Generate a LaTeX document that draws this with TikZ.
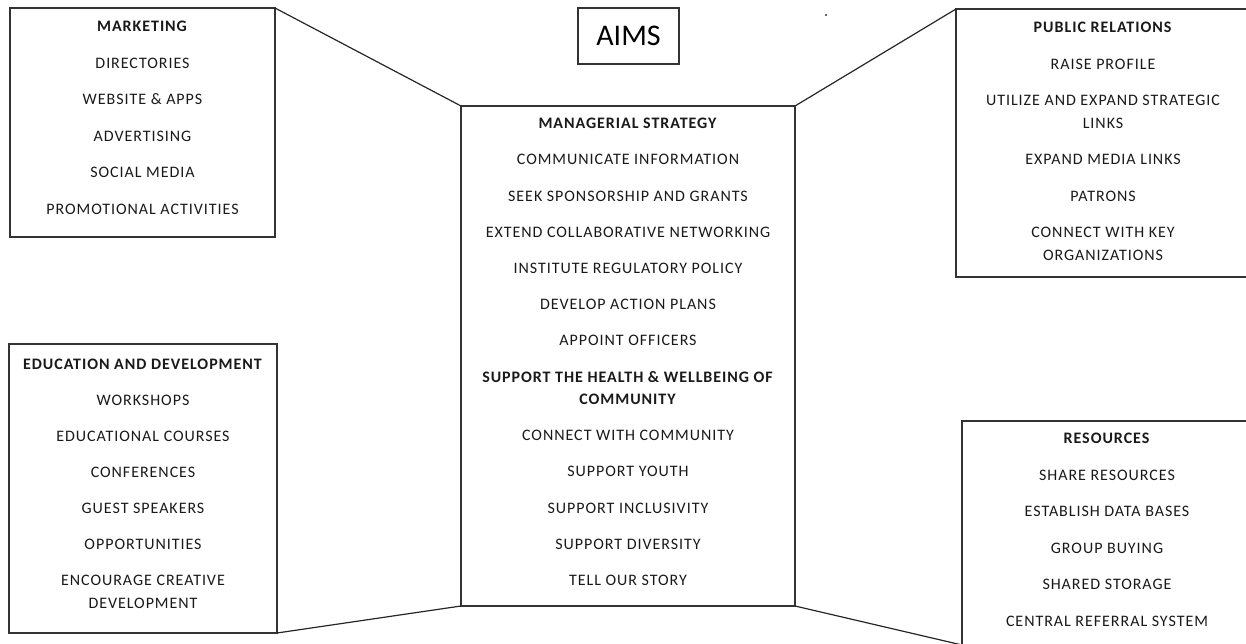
\documentclass[tikz,border=0pt]{standalone}
\usepackage{fontspec}
\setmainfont{Carlito}
\newfontfamily\listfont{Carlito}[LetterSpace=6]
\begin{document}
\begin{tikzpicture}[x=1pt,y=-1pt,
    panel/.style={draw=black!80,line width=1.4pt,inner sep=0pt,outer sep=0pt,
                  anchor=north west},
    items/.style={align=center,inner sep=0pt,anchor=north,text=black!90,
                  font=\listfont\fontsize{16}{22.5}\selectfont},
    link/.style={draw=black!85,line width=1.2pt}]
  \useasboundingbox (0,0) rectangle (1246,644);
  \clip (0,0) rectangle (1246,644);

  \node[panel,minimum width=265,minimum height=229] (mkt) at (10,8) {};
  \node[panel,minimum width=334,minimum height=500] (strat) at (461,106) {};
  \node[panel,minimum width=268,minimum height=289] (edu) at (9,344) {};
  \node[panel,minimum width=294,minimum height=268] (pr) at (956,9) {};
  \node[panel,minimum width=290,minimum height=224] (res) at (962,421) {};
  \node[panel,minimum width=101,minimum height=56,line width=1.2pt,
        font=\fontsize{30}{30}\selectfont] (aims) at (578,8) {AIMS};
  \fill[black!80] (826,15) circle (1.1);

  \node[items] (mktlist) at ([yshift=-13]mkt.north) {\textbf{MARKETING}\\[14pt]
    DIRECTORIES\\[14pt] WEBSITE \& APPS\\[14pt] ADVERTISING\\[14pt]
    SOCIAL MEDIA\\[14pt] PROMOTIONAL ACTIVITIES};
  \node[items] (stratlist) at ([yshift=-12]strat.north) {\textbf{MANAGERIAL STRATEGY}\\[13.7pt]
    COMMUNICATE INFORMATION\\[13.7pt] SEEK SPONSORSHIP AND GRANTS\\[13.7pt]
    EXTEND COLLABORATIVE NETWORKING\\[13.7pt] INSTITUTE REGULATORY POLICY\\[13.7pt]
    DEVELOP ACTION PLANS\\[13.7pt] APPOINT OFFICERS\\[13.7pt]
    \textbf{SUPPORT THE HEALTH \& WELLBEING OF}\\ \textbf{COMMUNITY}\\[13.7pt]
    CONNECT WITH COMMUNITY\\[13.7pt] SUPPORT YOUTH\\[13.7pt] SUPPORT INCLUSIVITY\\[13.7pt]
    SUPPORT DIVERSITY\\[13.7pt] TELL OUR STORY};
  \node[items] (edulist) at ([yshift=-15]edu.north) {\textbf{EDUCATION AND DEVELOPMENT}\\[13.5pt]
    WORKSHOPS\\[13.5pt] EDUCATIONAL COURSES\\[13.5pt] CONFERENCES\\[13.5pt]
    GUEST SPEAKERS\\[13.5pt] OPPORTUNITIES\\[13.5pt] ENCOURAGE CREATIVE\\ DEVELOPMENT};
  \node[items] (prlist) at ([yshift=-13]pr.north) {\textbf{PUBLIC RELATIONS}\\[14pt]
    RAISE PROFILE\\[14pt] UTILIZE AND EXPAND STRATEGIC\\ LINKS\\[14pt]
    EXPAND MEDIA LINKS\\[14pt] PATRONS\\[14pt] CONNECT WITH KEY\\ ORGANIZATIONS};
  \node[items] (reslist) at ([yshift=-12]res.north) {\textbf{RESOURCES}\\[14pt]
    SHARE RESOURCES\\[14pt] ESTABLISH DATA BASES\\[14pt] GROUP BUYING\\[14pt]
    SHARED STORAGE\\[14pt] CENTRAL REFERRAL SYSTEM};

  \draw[link] (mkt.north east) -- (strat.north west);
  \draw[link] (strat.north east) -- (pr.north west);
  \draw[link] (edu.south east) -- (strat.south west);
  \draw[link] (strat.south east) -- (res.south west);
\end{tikzpicture}
\end{document}
